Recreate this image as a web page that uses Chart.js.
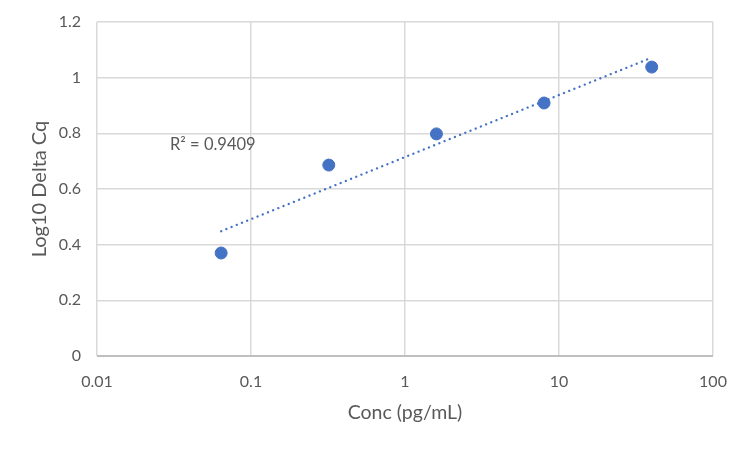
<!DOCTYPE html>
<html lang="en">
  <head>
    <meta charset="UTF-8" />
    <script src="https://cdn.jsdelivr.net/npm/chart.js@4.4.1/dist/chart.umd.min.js"></script>
    <style>
      html, body { margin: 0; padding: 0; background: #fff; }
      #wrap { width: 750px; height: 449px; }
    </style>
  </head>
  <body>
    <div id="wrap">
      <canvas id="myChart"></canvas>
    </div>

    <script>
      // Data
      const concValues = [0.064, 0.32, 1.6, 8, 40];
      const log10DeltaCq = [0.37, 0.686, 0.798, 0.909, 1.038];
      const xTickValues = [0.01, 0.1, 1, 10, 100];
      const yTickValues = [0, 0.2, 0.4, 0.6, 0.8, 1, 1.2];
      const r2Label = "R² = 0.9409";

      // Logarithmic trendline (least squares on log10 x), like Excel's
      const lx = concValues.map((v) => Math.log10(v));
      const n = lx.length;
      const mx = lx.reduce((a, b) => a + b, 0) / n;
      const my = log10DeltaCq.reduce((a, b) => a + b, 0) / n;
      let sxy = 0, sxx = 0;
      lx.forEach((v, i) => {
        sxy += (v - mx) * (log10DeltaCq[i] - my);
        sxx += (v - mx) * (v - mx);
      });
      const slope = sxy / sxx;
      const intercept = my - slope * mx;
      const trendX = [concValues[0], concValues[n - 1]];
      const trendPoints = trendX.map((x) => ({ x: x, y: intercept + slope * Math.log10(x) }));

      const textColor = "#595959";
      const fontFamily = "Lato, 'Open Sans', sans-serif";

      // draws the R² label at a data position
      const r2Plugin = {
        id: "r2Label",
        afterDatasetsDraw(chart) {
          const { ctx, scales } = chart;
          const px = scales.x.getPixelForValue(0.0298);
          const py = scales.y.getPixelForValue(0.758);
          ctx.save();
          ctx.font = "16.5px " + fontFamily;
          ctx.fillStyle = textColor;
          ctx.textAlign = "left";
          ctx.textBaseline = "middle";
          ctx.fillText(r2Label, px, py);
          ctx.restore();
        },
      };

      const ctx = document.getElementById("myChart").getContext("2d");
      const myChart = new Chart(ctx, {
        type: "scatter",
        data: {
          datasets: [
            {
              label: "Trend",
              data: trendPoints,
              showLine: true,
              borderColor: "#4472c4",
              borderWidth: 2.3,
              borderDash: [0.1, 5.5],
              borderCapStyle: "round",
              pointRadius: 0,
              fill: false,
            },
            {
              label: "Log10 Delta Cq",
              data: concValues.map((x, i) => ({ x: x, y: log10DeltaCq[i] })),
              backgroundColor: "#4472c4",
              borderColor: "#4472c4",
              pointRadius: 6,
              pointHoverRadius: 6,
            },
          ],
        },
        options: {
          responsive: true,
          maintainAspectRatio: false,
          animation: false,
          layout: {
            padding: { left: 0, right: 37, top: 22, bottom: 16 },
          },
          plugins: {
            legend: { display: false },
            tooltip: { enabled: false },
          },
          scales: {
            x: {
              type: "logarithmic",
              min: 0.01,
              max: 100,
              afterBuildTicks: (axis) => {
                axis.ticks = xTickValues.map((v) => ({ value: v }));
              },
              afterFit: (axis) => {
                axis.height = 77;
              },
              grid: {
                color: "#d9d9d9",
                lineWidth: 1.5,
                drawTicks: false,
              },
              border: { display: false },
              ticks: {
                color: textColor,
                padding: 16,
                font: { family: fontFamily, size: 16 },
                callback: (value) => String(value),
              },
              title: {
                display: true,
                text: "Conc (pg/mL)",
                color: textColor,
                font: { family: fontFamily, size: 19.5 },
                padding: { top: 0, bottom: 9 },
              },
            },
            y: {
              min: 0,
              max: 1.2,
              afterBuildTicks: (axis) => {
                axis.ticks = yTickValues.map((v) => ({ value: v }));
              },
              afterFit: (axis) => {
                axis.width = 97;
                // tick padding would otherwise push the plot top down
                axis.paddingTop = 0;
                axis.paddingBottom = 0;
              },
              grid: {
                color: (c) => (c.tick && c.tick.value === 0 ? "#bfbfbf" : "#d9d9d9"),
                lineWidth: (c) => (c.tick && c.tick.value === 0 ? 2 : 1.5),
                drawTicks: false,
              },
              border: { display: false },
              ticks: {
                color: textColor,
                padding: 16,
                font: { family: fontFamily, size: 16 },
                callback: (value) => String(Number(value.toFixed(1))),
              },
              title: {
                display: true,
                text: "Log10 Delta Cq",
                color: textColor,
                font: { family: fontFamily, size: 20 },
                padding: { top: 28, bottom: 0 },
              },
            },
          },
        },
        plugins: [r2Plugin],
      });
    </script>
  </body>
</html>
